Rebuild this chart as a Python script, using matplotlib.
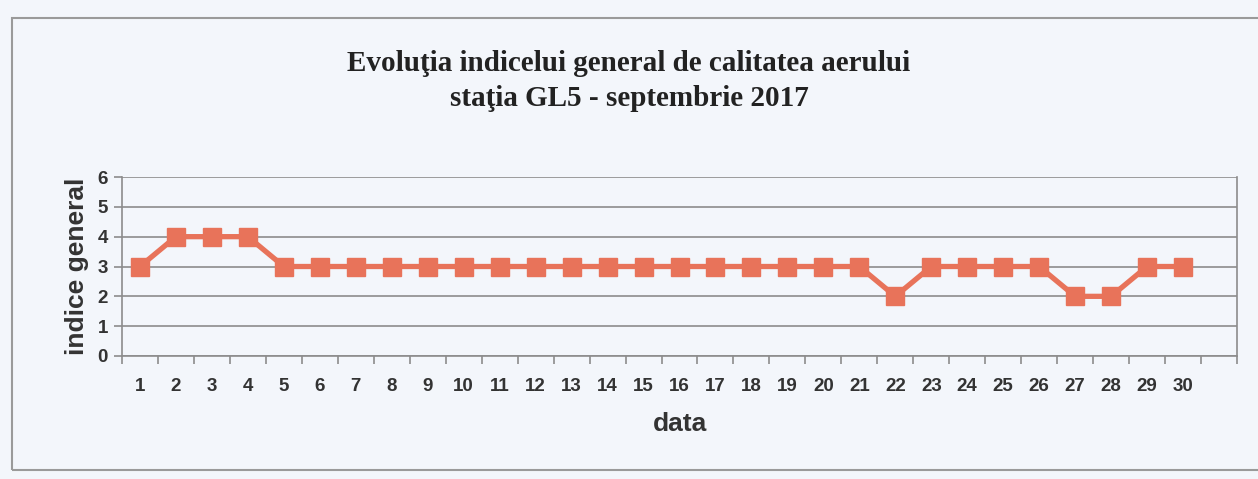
import matplotlib.pyplot as plt
from matplotlib.patches import Rectangle

# date (zilele lunii) si indicele general
zile = list(range(1, 31))
indice = [3, 4, 4, 4, 3, 3, 3, 3, 3, 3,
          3, 3, 3, 3, 3, 3, 3, 3, 3, 3,
          3, 2, 3, 3, 3, 3, 2, 2, 3, 3]
titlu = 'Evoluţia indicelui general de calitatea aerului\nstaţia GL5 - septembrie 2017'

bg = '#f3f6fb'
culoare = '#e8735a'
gri = '#8c8c8c'

fig = plt.figure(figsize=(12.58, 4.79), dpi=100)
fig.patch.set_facecolor(bg)

# chenarul graficului
fig.patches.append(Rectangle((12 / 1258, 9 / 479), 1.0, 452 / 479, transform=fig.transFigure,
                             fill=False, edgecolor='#9a9a9a', linewidth=1.5))

ax = fig.add_axes([122 / 1258, 1 - 356 / 479, (1237 - 122) / 1258, (356 - 177) / 479])
ax.set_facecolor(bg)

ax.plot(zile, indice, color=culoare, linewidth=3.8, marker='s', markersize=13.5,
        markerfacecolor=culoare, markeredgecolor=culoare, zorder=3)

ax.set_xlim(0.5, 31.5)
ax.set_ylim(0, 6)
ax.set_yticks(range(0, 7))
ax.set_xticks(zile)
ax.set_xticks([i + 0.5 for i in range(0, 32)], minor=True)
ax.grid(axis='y', color=gri, linewidth=1.2)
ax.set_axisbelow(True)

ax.spines['top'].set_visible(False)
for s in ['left', 'bottom', 'right']:
    ax.spines[s].set_color(gri)
    ax.spines[s].set_linewidth(1.2)

ax.tick_params(axis='x', which='major', length=0, pad=16, labelsize=13.5, labelcolor='#333333')
ax.tick_params(axis='x', which='minor', length=6, color=gri, width=1.2)
ax.tick_params(axis='y', length=6, color=gri, width=1.2, labelsize=13.5, labelcolor='#333333', pad=4)
for lbl in ax.get_xticklabels() + ax.get_yticklabels():
    lbl.set_fontweight('bold')
    lbl.set_fontfamily('Liberation Sans')

ax.set_ylabel('indice general', fontsize=19, fontweight='bold', family='Liberation Sans',
              color='#333333', labelpad=6)
ax.set_xlabel('data', fontsize=19, fontweight='bold', family='Liberation Sans',
              color='#333333', labelpad=12)

fig.text(0.5, 1 - 81 / 479, titlu, ha='center', va='center', fontsize=21, fontweight='bold',
         family='Liberation Serif', color='#222222', linespacing=1.4)

fig.savefig('out.png', dpi=100, facecolor=bg)
